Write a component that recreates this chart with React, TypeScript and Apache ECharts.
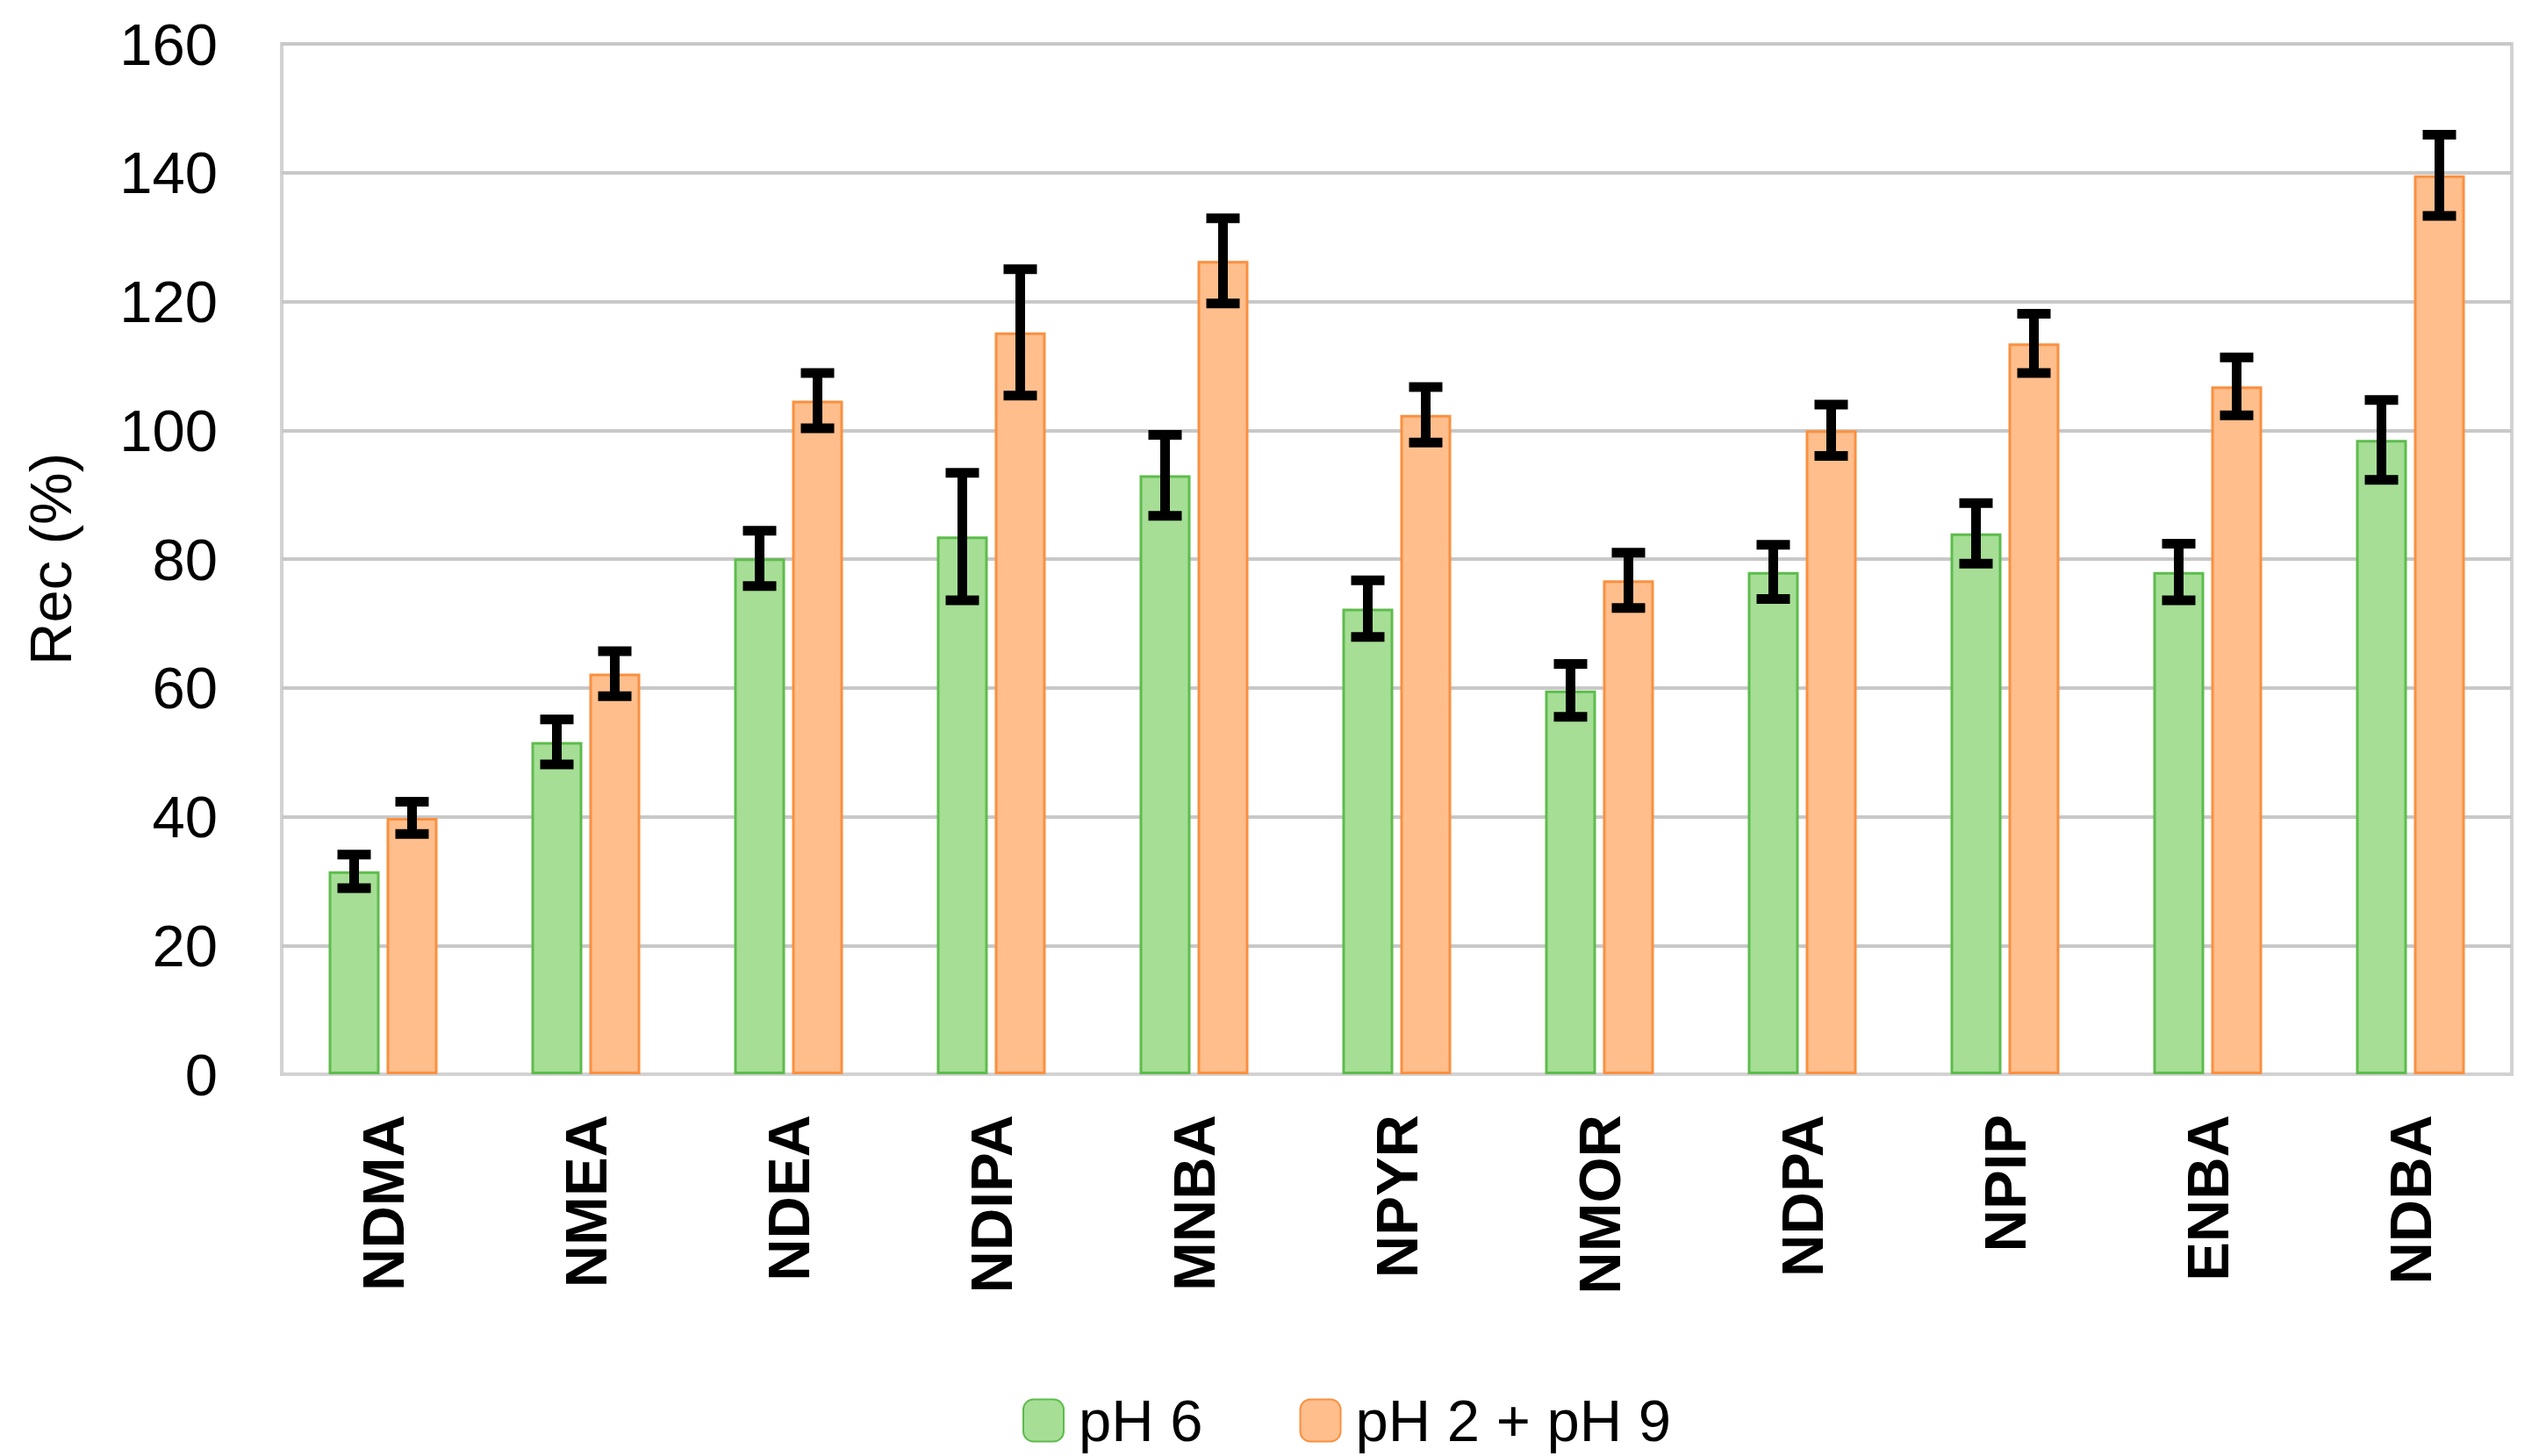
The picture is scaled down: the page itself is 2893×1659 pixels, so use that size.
import React, { useEffect, useRef } from "react";
import * as echarts from "echarts";

const categories = ["NDMA", "NMEA", "NDEA", "NDIPA", "MNBA", "NPYR", "NMOR", "NDPA", "NPIP", "ENBA", "NDBA"];
const ph6Values = [31.5, 51.6, 80.1, 83.5, 93.0, 72.3, 59.6, 78.0, 84.0, 78.0, 98.5];
const ph6Errors = [2.6, 3.5, 4.3, 9.9, 6.3, 4.4, 4.1, 4.2, 4.7, 4.4, 6.2];
const ph29Values = [39.8, 62.2, 104.6, 115.2, 126.3, 102.4, 76.7, 100.0, 113.5, 106.8, 139.6];
const ph29Errors = [2.5, 3.5, 4.3, 9.8, 6.6, 4.3, 4.3, 4.0, 4.6, 4.5, 6.3];
const yTicks = [0, 20, 40, 60, 80, 100, 120, 140, 160];

const FONT = "Liberation Sans";
const BAR_W = 58;
const BAR_GAP_PX = 8;

function errorSeries(values: number[], errs: number[], dir: number) {
  return {
    type: "custom",
    z: 10,
    silent: true,
    data: values.map((v, i) => [i, v - errs[i], v + errs[i]]),
    encode: { x: 0, y: [1, 2] },
    renderItem: (_params: any, api: any) => {
      const x = api.value(0);
      const pLo = api.coord([x, api.value(1)]);
      const pHi = api.coord([x, api.value(2)]);
      const cx = pLo[0] + dir * (BAR_W + BAR_GAP_PX) / 2;
      return {
        type: "group",
        children: [
          { type: "rect", shape: { x: cx - 5.5, y: pHi[1], width: 11, height: pLo[1] - pHi[1] }, style: { fill: "#000" } },
          { type: "rect", shape: { x: cx - 19, y: pHi[1] - 5.5, width: 38, height: 11 }, style: { fill: "#000" } },
          { type: "rect", shape: { x: cx - 19, y: pLo[1] - 5.5, width: 38, height: 11 }, style: { fill: "#000" } },
        ],
      };
    },
  };
}

export default function App() {
  const ref = useRef<HTMLDivElement>(null);
  useEffect(() => {
    document.body.style.margin = "0";
    const chart = echarts.init(ref.current!, undefined, { renderer: "svg" });
    chart.setOption({
      animation: false,
      backgroundColor: "#fff",
      textStyle: { fontFamily: FONT },
      grid: {
        left: 321,
        right: 31,
        top: 50,
        bottom: 435,
        show: true,
        borderColor: "#D2D2D2",
        borderWidth: 4,
      },
      legend: {
        data: ["pH 6", "pH 2 + pH 9"],
        left: 1160,
        top: 1580,
        itemWidth: 46,
        itemHeight: 48,
        itemGap: 110,
        textStyle: { fontFamily: FONT, fontSize: 67, color: "#000", padding: [0, 0, 0, 12] },
      },
      xAxis: {
        type: "category",
        data: categories,
        axisTick: { show: false },
        axisLine: { show: true, lineStyle: { color: "#D2D2D2", width: 4 } },
        axisLabel: {
          interval: 0,
          rotate: 90,
          margin: 46,
          fontFamily: FONT,
          fontSize: 67,
          fontWeight: "bold",
          color: "#000",
        },
      },
      yAxis: {
        type: "value",
        min: yTicks[0],
        max: yTicks[yTicks.length - 1],
        interval: 20,
        name: "Rec (%)",
        nameLocation: "middle",
        nameGap: 230,
        nameRotate: 90,
        nameTextStyle: { fontFamily: FONT, fontSize: 67, color: "#000" },
        axisLine: { show: false },
        axisTick: { show: false },
        axisLabel: { margin: 73, fontFamily: FONT, fontSize: 67, color: "#000" },
        splitLine: { lineStyle: { color: "#C8C8C8", width: 4 } },
      },
      series: [
        {
          name: "pH 6",
          type: "bar",
          data: ph6Values,
          barWidth: BAR_W,
          barGap: `${(BAR_GAP_PX / BAR_W) * 100}%`,
          itemStyle: { color: "#A6DE96", borderColor: "#5EBC4C", borderWidth: 3 },
        },
        {
          name: "pH 2 + pH 9",
          type: "bar",
          data: ph29Values,
          barWidth: BAR_W,
          barGap: `${(BAR_GAP_PX / BAR_W) * 100}%`,
          itemStyle: { color: "#FFBE8C", borderColor: "#FA9040", borderWidth: 3 },
        },
        errorSeries(ph6Values, ph6Errors, -1),
        errorSeries(ph29Values, ph29Errors, 1),
      ],
    });
    return () => chart.dispose();
  }, []);
  return <div ref={ref} style={{ width: 2893, height: 1659 }} />;
}
